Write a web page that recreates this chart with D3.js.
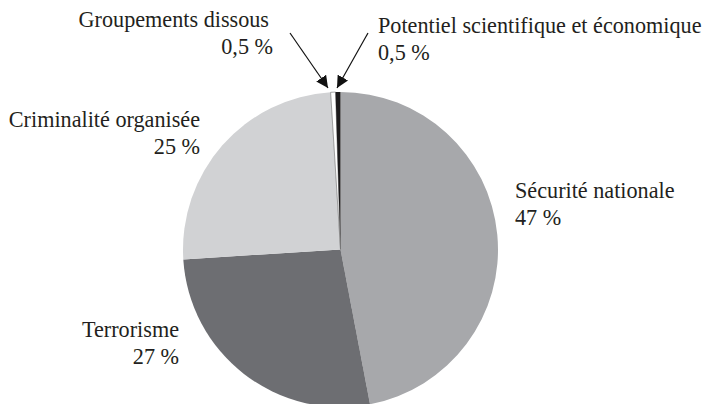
<!DOCTYPE html>
<html><head><meta charset="utf-8">
<script src="https://cdn.jsdelivr.net/npm/d3@7"></script>
<style>body{margin:0;background:#fff}svg{display:block}</style>
</head><body>
<svg id="c" width="703" height="404"></svg>
<script>
const categories = ["Sécurité nationale","Terrorisme","Criminalité organisée","Groupements dissous","Potentiel scientifique et économique"];
const values = [47, 27, 25, 0.5, 0.5];
const valueLabels = ["47 %","27 %","25 %","0,5 %","0,5 %"];
const colors = ["#a7a8ab","#6d6e72","#d1d2d4","#ffffff","#1c1a1b"];

const svg = d3.select("#c");
const cx = 340.5, cy = 249.5, r = 157.5;
const g = svg.append("g").attr("transform", `translate(${cx},${cy})`);
const pie = d3.pie().sort(null).value(d => d)(values);
const arc = d3.arc().innerRadius(0).outerRadius(r);
g.selectAll("path").data(pie).join("path")
  .attr("d", arc)
  .attr("fill", (d,i) => colors[i])
  .attr("stroke", (d,i) => i === 3 ? "#666" : "none")
  .attr("stroke-width", 0.6);

const labels = [
  {i:0, x:515, y:198, anchor:"start"},
  {i:1, x:179, y:337, anchor:"end"},
  {i:2, x:200, y:127, anchor:"end"},
  {i:3, x:269, y:27, anchor:"end"},
  {i:4, x:378, y:33, anchor:"start"}
];
labels.forEach(l => {
  const t = svg.append("text").style("font-family", '"Liberation Serif", serif').style("font-size", "22.2px")
    .attr("fill", "#231f20").attr("text-anchor", l.anchor);
  t.append("tspan").attr("x", l.x).attr("y", l.y).text(categories[l.i]);
  t.append("tspan").attr("x", l.i===3 ? l.x+4 : l.x).attr("y", l.y + 26.5).text(valueLabels[l.i]);
});

svg.append("defs").append("marker").attr("id","ah").attr("viewBox","0 0 10 10")
  .attr("refX",10).attr("refY",5).attr("markerWidth",12).attr("markerHeight",12)
  .attr("markerUnits","userSpaceOnUse").attr("orient","auto")
  .append("path").attr("d","M0,0 L10,5 L0,10 Z").attr("fill","#111");
const arrows = [[290,33,328,88],[368,33,337,88]];
arrows.forEach(a => svg.append("line").attr("x1",a[0]).attr("y1",a[1]).attr("x2",a[2]).attr("y2",a[3])
  .attr("stroke","#111").attr("stroke-width",1.2).attr("marker-end","url(#ah)"));
</script>
</body></html>
